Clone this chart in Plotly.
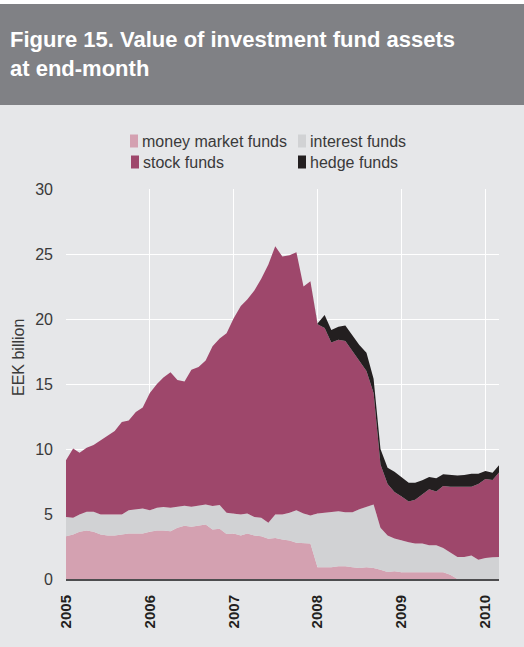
import pandas as pd
import plotly.graph_objects as go

# ---------------- data (EEK billion, monthly Jan 2005 - Mar 2010) ----------------
months = pd.date_range("2005-01-01", periods=63, freq="MS")

money_market = [3.29, 3.42, 3.63, 3.73, 3.63, 3.42, 3.34, 3.34, 3.42, 3.50, 3.50, 3.50,
                3.63, 3.73, 3.73, 3.68, 3.94, 4.09, 4.01, 4.12, 4.19, 3.81, 3.86, 3.47,
                3.50, 3.34, 3.50, 3.34, 3.29, 3.09, 3.16, 3.04, 2.96, 2.78, 2.78, 2.73,
                0.90, 0.90, 0.90, 0.98, 0.98, 0.90, 0.85, 0.90, 0.85, 0.72, 0.54, 0.59,
                0.51, 0.51, 0.51, 0.51, 0.51, 0.51, 0.51, 0.33, 0.00, 0.00, 0.00, 0.00,
                0.00, 0.00, 0.00]

interest = [1.47, 1.29, 1.34, 1.44, 1.54, 1.55, 1.63, 1.63, 1.55, 1.78, 1.86, 1.93,
            1.65, 1.75, 1.80, 1.80, 1.61, 1.54, 1.54, 1.51, 1.55, 1.80, 1.83, 1.62,
            1.54, 1.63, 1.54, 1.42, 1.42, 1.23, 1.81, 1.93, 2.13, 2.50, 2.26, 2.16,
            4.14, 4.19, 4.27, 4.24, 4.16, 4.24, 4.51, 4.66, 4.89, 3.22, 2.81, 2.53,
            2.45, 2.32, 2.22, 2.22, 2.09, 2.09, 1.88, 1.73, 1.70, 1.70, 1.80, 1.49,
            1.62, 1.67, 1.70]

stock = [4.37, 5.32, 4.75, 4.93, 5.13, 5.70, 6.06, 6.42, 7.11, 6.92, 7.49, 7.77,
         9.02, 9.52, 9.97, 10.42, 9.75, 9.57, 10.55, 10.67, 11.06, 12.29, 12.81, 13.81,
         15.01, 16.03, 16.46, 17.44, 18.39, 19.88, 20.63, 19.83, 19.81, 19.86, 17.46, 18.01,
         14.56, 14.21, 13.03, 13.18, 13.16, 12.36, 11.34, 10.44, 8.56, 4.86, 3.95, 3.58,
         3.39, 3.14, 3.37, 3.77, 4.30, 4.13, 4.76, 5.04, 5.40, 5.40, 5.30, 5.81,
         6.08, 5.95, 6.50]

hedge = [0.0] * 36 + [0.05, 1.00, 0.95, 1.00, 1.20, 1.20, 1.30, 1.40, 1.10, 1.20, 1.26, 1.55,
                      1.50, 1.44, 1.31, 1.10, 0.95, 1.02, 0.90, 0.90, 0.87, 0.90, 1.00, 0.80,
                      0.60, 0.56, 0.55]

series_names = ["money market funds", "interest funds", "stock funds", "hedge funds"]
series_colors = ["#d4a1b1", "#d1d2d4", "#9e476b", "#231f20"]
year_ticks = ["2005-01-01", "2006-01-01", "2007-01-01", "2008-01-01", "2009-01-01", "2010-01-01"]
year_labels = ["2005", "2006", "2007", "2008", "2009", "2010"]
title_text = "Figure 15. Value of investment fund assets<br>at end-month"
y_title = "EEK billion"

# ---------------- figure ----------------
W, H = 524, 647
L, R, T, B = 66, 25, 189, 68
PW, PH = W - L - R, H - T - B


def px(x):
    return (x - L) / PW


def py(y):
    return (H - B - y) / PH


BG = "#e6e7e9"
TXT = "#3a3a3a"
FONT = "Liberation Sans, Arial, Helvetica, sans-serif"

fig = go.Figure()
for name, vals, col in zip(series_names, [money_market, interest, stock, hedge], series_colors):
    fig.add_trace(go.Scatter(
        x=months, y=vals, name=name, mode="lines",
        stackgroup="one", line=dict(width=0, color=col),
        fillcolor=col, showlegend=False, hoverinfo="x+y+name",
    ))

shapes = []
annotations = []

# title bar
shapes.append(dict(type="rect", xref="paper", yref="paper",
                   x0=px(-2), x1=px(W + 2), y0=py(105), y1=py(4),
                   fillcolor="#808185", line=dict(width=0), layer="below"))
shapes.append(dict(type="rect", xref="paper", yref="paper",
                   x0=px(-2), x1=px(W + 2), y0=py(4), y1=py(-2),
                   fillcolor="#ffffff", line=dict(width=0), layer="below"))
annotations.append(dict(text=title_text, xref="paper", yref="paper",
                        x=px(8), y=py(54), xanchor="left", yanchor="middle",
                        align="left", showarrow=False,
                        font=dict(family=FONT, size=22, color="#ffffff", weight="bold")))

# legend (two rows, two columns)
leg_pos = [(130, 141), (298, 141), (131, 162), (298, 162)]
for (lx, ly), name, col in zip(leg_pos, series_names, series_colors):
    shapes.append(dict(type="rect", xref="paper", yref="paper",
                       x0=px(lx), x1=px(lx + 8), y0=py(ly + 6.5), y1=py(ly - 6.5),
                       fillcolor=col, line=dict(width=0)))
    annotations.append(dict(text=name, xref="paper", yref="paper",
                            x=px(lx + 10), y=py(ly), xanchor="left", yanchor="middle",
                            showarrow=False, font=dict(family=FONT, size=16, color=TXT)))

# y-axis title
annotations.append(dict(text=y_title, xref="paper", yref="paper",
                        x=px(18), y=py(358), xanchor="center", yanchor="middle",
                        textangle=-90, showarrow=False,
                        font=dict(family=FONT, size=16, color=TXT)))

fig.update_layout(
    width=W, height=H,
    margin=dict(l=L, r=R, t=T, b=B, pad=0),
    paper_bgcolor=BG, plot_bgcolor=BG,
    shapes=shapes, annotations=annotations,
    showlegend=False,
    font=dict(family=FONT, color=TXT),
    xaxis=dict(
        type="date", range=[months[0], months[-1]],
        tickvals=year_ticks, ticktext=year_labels, tickangle=-90,
        tickfont=dict(family=FONT, size=15, color="#231f20", weight="bold"),
        showgrid=True, gridcolor="#ffffff", gridwidth=1.3,
        showline=True, linecolor="#4d4d4f", linewidth=2,
        zeroline=False, ticks="", ticklabelstandoff=8, layer="above traces",
    ),
    yaxis=dict(
        range=[0, 30], tickvals=[0, 5, 10, 15, 20, 25, 30],
        tickfont=dict(family=FONT, size=16, color=TXT),
        showgrid=True, gridcolor="#ffffff", gridwidth=1.3,
        zeroline=False, showline=False, ticks="", ticklabelstandoff=12,
    ),
)

fig.write_html(
    "out.html",
    config={"displayModeBar": False},
    post_script="document.body.style.margin='0';document.body.style.overflow='hidden';",
)
